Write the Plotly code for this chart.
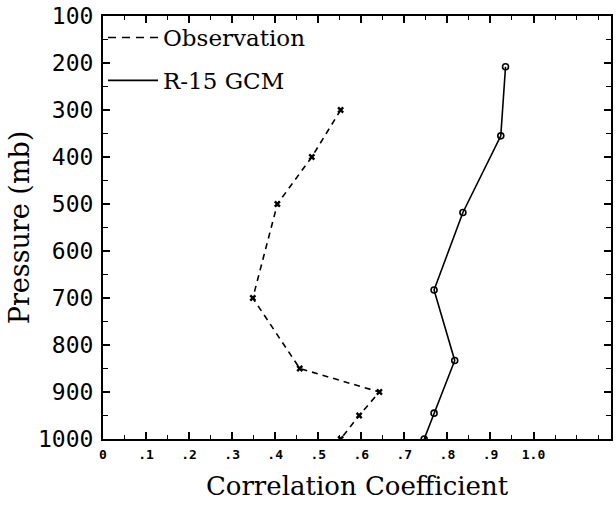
import plotly.graph_objects as go

# Data
obs_pressure = [300, 400, 500, 700, 850, 900, 950, 1000]
obs_corr = [0.552, 0.485, 0.405, 0.348, 0.457, 0.642, 0.595, 0.552]

gcm_pressure = [208, 355, 518, 683, 833, 945, 1000]
gcm_corr = [0.935, 0.924, 0.836, 0.769, 0.817, 0.769, 0.746]

y_ticks = [100, 200, 300, 400, 500, 600, 700, 800, 900, 1000]
x_tickvals = [0, 0.1, 0.2, 0.3, 0.4, 0.5, 0.6, 0.7, 0.8, 0.9, 1.0]
x_ticktext = ["0", ".1", ".2", ".3", ".4", ".5", ".6", ".7", ".8", ".9", "1.0"]

serif = "DejaVu Serif"

fig = go.Figure()

fig.add_trace(go.Scatter(
    x=obs_corr, y=obs_pressure, mode="lines+markers",
    line=dict(color="black", width=1.6, dash="6px,5px"),
    marker=dict(symbol="x", size=6, color="black"),
    showlegend=False,
))
fig.add_trace(go.Scatter(
    x=gcm_corr, y=gcm_pressure, mode="lines+markers",
    line=dict(color="black", width=1.6),
    marker=dict(symbol="circle-open", size=6, color="black", line=dict(width=1.6)),
    showlegend=False,
))
# legend-only entries (line samples without markers)
fig.add_trace(go.Scatter(
    x=[None], y=[None], mode="lines", name="Observation",
    line=dict(color="black", width=1.6, dash="8px,6px"), legendgroup="a",
))
fig.add_trace(go.Scatter(
    x=[None], y=[None], mode="lines", name="R-15 GCM",
    line=dict(color="black", width=1.6), legendgroup="b",
))

fig.update_layout(
    width=616, height=505,
    margin=dict(l=103, r=3, t=15, b=66),
    paper_bgcolor="white", plot_bgcolor="white",
    showlegend=True,
    legend=dict(
        x=0.0, y=1.0, xanchor="left", yanchor="top",
        bgcolor="rgba(0,0,0,0)", borderwidth=0,
        font=dict(family=serif, size=23, color="black"),
        tracegroupgap=10, itemwidth=50,
    ),
)

fig.update_xaxes(
    range=[0, 1.18],
    tickmode="array", tickvals=x_tickvals, ticktext=x_ticktext,
    ticks="inside", ticklen=7, tickwidth=1.5, tickcolor="black",
    minor=dict(dtick=0.05, tick0=0, ticks="inside", ticklen=4, tickwidth=1.2, tickcolor="black"),
    showline=True, linecolor="black", linewidth=2, mirror="ticks",
    showgrid=False, zeroline=False,
    tickfont=dict(family="DejaVu Sans Mono", size=13, color="black", weight="bold"),
    ticklabelstandoff=2,
    title=dict(text="Correlation Coefficient", standoff=16,
               font=dict(family=serif, size=26, color="black")),
)

fig.update_yaxes(
    range=[1000, 100],
    tickmode="array", tickvals=y_ticks,
    ticks="inside", ticklen=7, tickwidth=1.5, tickcolor="black",
    minor=dict(dtick=50, tick0=0, ticks="inside", ticklen=5, tickwidth=1.2, tickcolor="black"),
    showline=True, linecolor="black", linewidth=2, mirror="ticks",
    showgrid=False, zeroline=False,
    tickfont=dict(family="DejaVu Sans Mono", size=23, color="black"),
    ticklabelstandoff=3,
    title=dict(text="Pressure (mb)", standoff=1,
               font=dict(family=serif, size=27, color="black")),
)

fig.write_html("out.html")
